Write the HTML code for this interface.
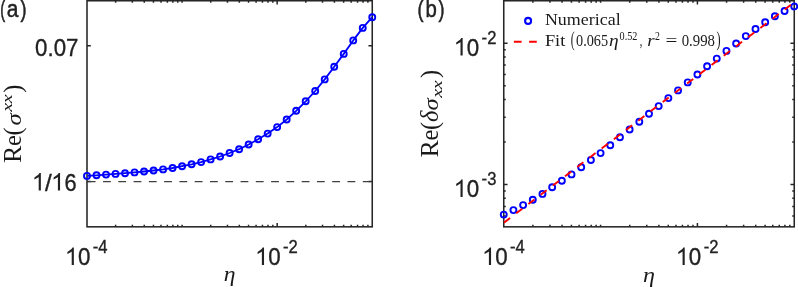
<!DOCTYPE html>
<html><head><meta charset="utf-8"><title>fig</title>
<style>html,body{margin:0;padding:0;background:#fff;}body{width:798px;height:287px;overflow:hidden;font-family:"Liberation Sans",sans-serif;}</style></head>
<body>
<svg width="798" height="287" viewBox="0 0 798 287" style="display:block;will-change:transform">
<rect width="798" height="287" fill="#fff"/>
<g fill="none" stroke="#262626" stroke-width="1.55">
<rect x="87.0" y="0.75" width="285.25" height="226.07"/>
<path stroke-width="1.5" d="M115.62 226.82 v-2.0 M115.62 0.75 v2.0 M132.37 226.82 v-2.0 M132.37 0.75 v2.0 M144.25 226.82 v-2.0 M144.25 0.75 v2.0 M153.46 226.82 v-2.0 M153.46 0.75 v2.0 M160.99 226.82 v-2.0 M160.99 0.75 v2.0 M167.35 226.82 v-2.0 M167.35 0.75 v2.0 M172.87 226.82 v-2.0 M172.87 0.75 v2.0 M177.73 226.82 v-2.0 M177.73 0.75 v2.0 M182.08 226.82 v-2.0 M182.08 0.75 v2.0 M210.71 226.82 v-2.0 M210.71 0.75 v2.0 M227.45 226.82 v-2.0 M227.45 0.75 v2.0 M239.33 226.82 v-2.0 M239.33 0.75 v2.0 M248.54 226.82 v-2.0 M248.54 0.75 v2.0 M256.07 226.82 v-2.0 M256.07 0.75 v2.0 M262.44 226.82 v-2.0 M262.44 0.75 v2.0 M267.95 226.82 v-2.0 M267.95 0.75 v2.0 M272.82 226.82 v-2.0 M272.82 0.75 v2.0 M277.17 226.82 v-3.8 M277.17 0.75 v3.8 M305.79 226.82 v-2.0 M305.79 0.75 v2.0 M322.53 226.82 v-2.0 M322.53 0.75 v2.0 M334.41 226.82 v-2.0 M334.41 0.75 v2.0 M343.63 226.82 v-2.0 M343.63 0.75 v2.0 M351.16 226.82 v-2.0 M351.16 0.75 v2.0 M357.52 226.82 v-2.0 M357.52 0.75 v2.0 M363.04 226.82 v-2.0 M363.04 0.75 v2.0 M367.90 226.82 v-2.0 M367.90 0.75 v2.0"/>
<path stroke-width="1.5" d="M87.0 45.8 h3.8 M372.25 45.8 h-3.8 M87.0 181.55 h3.8 M372.25 181.55 h-3.8"/>
</g>
<path d="M87.75 181.55 H372.25" stroke="#404040" stroke-width="1.3" stroke-dasharray="7.8 7.48" fill="none"/>
<polyline points="87.00,175.90 96.51,175.30 106.02,174.60 115.53,173.90 125.03,173.20 134.54,172.40 144.05,171.50 153.56,170.50 163.07,169.40 172.57,168.00 182.08,166.20 191.59,164.30 201.10,162.10 210.61,159.40 220.12,156.50 229.62,153.00 239.13,149.20 248.64,144.50 258.15,139.30 267.66,133.60 277.17,127.10 286.68,119.50 296.18,110.80 305.69,101.30 315.20,91.00 324.71,79.40 334.22,66.80 343.73,53.90 353.23,40.40 362.74,27.90 372.25,17.20" fill="none" stroke="#0000ff" stroke-width="1.8" stroke-linejoin="round"/>
<g fill="none" stroke="#0000ff" stroke-width="1.9">
<circle cx="87.00" cy="175.90" r="3.0"/>
<circle cx="96.51" cy="175.30" r="3.0"/>
<circle cx="106.02" cy="174.60" r="3.0"/>
<circle cx="115.53" cy="173.90" r="3.0"/>
<circle cx="125.03" cy="173.20" r="3.0"/>
<circle cx="134.54" cy="172.40" r="3.0"/>
<circle cx="144.05" cy="171.50" r="3.0"/>
<circle cx="153.56" cy="170.50" r="3.0"/>
<circle cx="163.07" cy="169.40" r="3.0"/>
<circle cx="172.57" cy="168.00" r="3.0"/>
<circle cx="182.08" cy="166.20" r="3.0"/>
<circle cx="191.59" cy="164.30" r="3.0"/>
<circle cx="201.10" cy="162.10" r="3.0"/>
<circle cx="210.61" cy="159.40" r="3.0"/>
<circle cx="220.12" cy="156.50" r="3.0"/>
<circle cx="229.62" cy="153.00" r="3.0"/>
<circle cx="239.13" cy="149.20" r="3.0"/>
<circle cx="248.64" cy="144.50" r="3.0"/>
<circle cx="258.15" cy="139.30" r="3.0"/>
<circle cx="267.66" cy="133.60" r="3.0"/>
<circle cx="277.17" cy="127.10" r="3.0"/>
<circle cx="286.68" cy="119.50" r="3.0"/>
<circle cx="296.18" cy="110.80" r="3.0"/>
<circle cx="305.69" cy="101.30" r="3.0"/>
<circle cx="315.20" cy="91.00" r="3.0"/>
<circle cx="324.71" cy="79.40" r="3.0"/>
<circle cx="334.22" cy="66.80" r="3.0"/>
<circle cx="343.73" cy="53.90" r="3.0"/>
<circle cx="353.23" cy="40.40" r="3.0"/>
<circle cx="362.74" cy="27.90" r="3.0"/>
<circle cx="372.25" cy="17.20" r="3.0"/>
</g>
<g fill="none" stroke="#262626" stroke-width="1.55">
<rect x="503.75" y="0.75" width="290.50" height="226.08"/>
<path stroke-width="1.5" d="M532.90 226.83 v-2.0 M532.90 0.75 v2.0 M549.95 226.83 v-2.0 M549.95 0.75 v2.0 M562.05 226.83 v-2.0 M562.05 0.75 v2.0 M571.43 226.83 v-2.0 M571.43 0.75 v2.0 M579.10 226.83 v-2.0 M579.10 0.75 v2.0 M585.58 226.83 v-2.0 M585.58 0.75 v2.0 M591.20 226.83 v-2.0 M591.20 0.75 v2.0 M596.15 226.83 v-2.0 M596.15 0.75 v2.0 M600.58 226.83 v-2.0 M600.58 0.75 v2.0 M629.73 226.83 v-2.0 M629.73 0.75 v2.0 M646.78 226.83 v-2.0 M646.78 0.75 v2.0 M658.88 226.83 v-2.0 M658.88 0.75 v2.0 M668.27 226.83 v-2.0 M668.27 0.75 v2.0 M675.93 226.83 v-2.0 M675.93 0.75 v2.0 M682.42 226.83 v-2.0 M682.42 0.75 v2.0 M688.03 226.83 v-2.0 M688.03 0.75 v2.0 M692.99 226.83 v-2.0 M692.99 0.75 v2.0 M697.42 226.83 v-3.8 M697.42 0.75 v3.8 M726.57 226.83 v-2.0 M726.57 0.75 v2.0 M743.62 226.83 v-2.0 M743.62 0.75 v2.0 M755.72 226.83 v-2.0 M755.72 0.75 v2.0 M765.10 226.83 v-2.0 M765.10 0.75 v2.0 M772.77 226.83 v-2.0 M772.77 0.75 v2.0 M779.25 226.83 v-2.0 M779.25 0.75 v2.0 M784.87 226.83 v-2.0 M784.87 0.75 v2.0 M789.82 226.83 v-2.0 M789.82 0.75 v2.0"/>
<path stroke-width="1.5" d="M503.75 215.97 h2.0 M794.25 215.97 h-2.0 M503.75 206.50 h2.0 M794.25 206.50 h-2.0 M503.75 198.30 h2.0 M794.25 198.30 h-2.0 M503.75 191.07 h2.0 M794.25 191.07 h-2.0 M503.75 184.60 h3.8 M794.25 184.60 h-3.8 M503.75 142.03 h2.0 M794.25 142.03 h-2.0 M503.75 117.14 h2.0 M794.25 117.14 h-2.0 M503.75 99.47 h2.0 M794.25 99.47 h-2.0 M503.75 85.77 h2.0 M794.25 85.77 h-2.0 M503.75 74.57 h2.0 M794.25 74.57 h-2.0 M503.75 65.10 h2.0 M794.25 65.10 h-2.0 M503.75 56.90 h2.0 M794.25 56.90 h-2.0 M503.75 49.67 h2.0 M794.25 49.67 h-2.0 M503.75 43.20 h3.8 M794.25 43.20 h-3.8"/>
</g>
<g fill="none" stroke="#0000ff" stroke-width="1.9">
<circle cx="503.75" cy="214.60" r="3.0"/>
<circle cx="513.43" cy="210.10" r="3.0"/>
<circle cx="523.12" cy="205.10" r="3.0"/>
<circle cx="532.80" cy="199.80" r="3.0"/>
<circle cx="542.48" cy="193.90" r="3.0"/>
<circle cx="552.17" cy="187.30" r="3.0"/>
<circle cx="561.85" cy="180.80" r="3.0"/>
<circle cx="571.53" cy="174.40" r="3.0"/>
<circle cx="581.22" cy="167.30" r="3.0"/>
<circle cx="590.90" cy="160.00" r="3.0"/>
<circle cx="600.58" cy="153.10" r="3.0"/>
<circle cx="610.27" cy="145.20" r="3.0"/>
<circle cx="619.95" cy="137.20" r="3.0"/>
<circle cx="629.63" cy="129.50" r="3.0"/>
<circle cx="639.32" cy="121.80" r="3.0"/>
<circle cx="649.00" cy="113.80" r="3.0"/>
<circle cx="658.68" cy="106.10" r="3.0"/>
<circle cx="668.37" cy="98.10" r="3.0"/>
<circle cx="678.05" cy="90.40" r="3.0"/>
<circle cx="687.73" cy="82.40" r="3.0"/>
<circle cx="697.42" cy="74.50" r="3.0"/>
<circle cx="707.10" cy="66.30" r="3.0"/>
<circle cx="716.78" cy="58.60" r="3.0"/>
<circle cx="726.47" cy="50.90" r="3.0"/>
<circle cx="736.15" cy="43.50" r="3.0"/>
<circle cx="745.83" cy="36.10" r="3.0"/>
<circle cx="755.52" cy="29.00" r="3.0"/>
<circle cx="765.20" cy="22.20" r="3.0"/>
<circle cx="774.88" cy="16.30" r="3.0"/>
<circle cx="784.57" cy="11.00" r="3.0"/>
<circle cx="794.25" cy="6.50" r="3.0"/>
</g>
<path d="M503.75 222.8 L794.25 2.2" stroke="#ff0000" stroke-width="1.9" stroke-dasharray="7.67 7.66" stroke-dashoffset="-0.3" fill="none"/>
<circle cx="528.1" cy="20.9" r="3.0" fill="none" stroke="#0000ff" stroke-width="2.1"/>
<path d="M513.9 41.8 H536.9" stroke="#ff0000" stroke-width="1.9" stroke-dasharray="7.7 7.5" fill="none"/>
<g fill="#222" stroke="#222" stroke-width="0.35">
<text transform="translate(0.20 17.4) scale(0.602 1)" font-family="Liberation Sans, sans-serif" font-size="24.5px" stroke="#222" stroke-width="0.6">(</text>
<text transform="translate(6.70 17.4) scale(0.857 1)" font-family="Liberation Sans, sans-serif" font-size="24.5px" stroke="#222" stroke-width="0.5">a</text>
<text transform="translate(20.40 17.4) scale(0.737 1)" font-family="Liberation Sans, sans-serif" font-size="24.5px" stroke="#222" stroke-width="0.6">)</text>
<text transform="translate(417.60 17.4) scale(0.737 1)" font-family="Liberation Sans, sans-serif" font-size="24.5px" stroke="#222" stroke-width="0.6">(</text>
<text transform="translate(425.50 17.4) scale(0.831 1)" font-family="Liberation Sans, sans-serif" font-size="24.5px" stroke="#222" stroke-width="0.5">b</text>
<text transform="translate(438.40 17.4) scale(0.737 1)" font-family="Liberation Sans, sans-serif" font-size="24.5px" stroke="#222" stroke-width="0.6">)</text>
<text transform="translate(35.10 55.5) scale(0.910 1)" font-family="Liberation Sans, sans-serif" font-size="24.5px">0.07</text>
<path transform="translate(31.73 190.6) scale(0.01196 -0.01196)" d="M763 0H583V1147Q518 1085 412.5 1023Q307 961 223 930V1104Q374 1175 487 1276Q600 1377 647 1472H763Z"/>
<text transform="translate(45.10 190.6) scale(0.991 1)" font-family="Liberation Sans, sans-serif" font-size="24.5px">/</text>
<path transform="translate(50.93 190.6) scale(0.01196 -0.01196)" d="M763 0H583V1147Q518 1085 412.5 1023Q307 961 223 930V1104Q374 1175 487 1276Q600 1377 647 1472H763Z"/>
<text transform="translate(64.40 190.6) scale(0.890 1)" font-family="Liberation Sans, sans-serif" font-size="24.5px">6</text>
<path transform="translate(64.73 265.1) scale(0.01196 -0.01196)" d="M763 0H583V1147Q518 1085 412.5 1023Q307 961 223 930V1104Q374 1175 487 1276Q600 1377 647 1472H763Z"/>
<text transform="translate(78.00 265.1) scale(0.912 1)" font-family="Liberation Sans, sans-serif" font-size="24.5px">0</text>
<text transform="translate(92.80 253.3) scale(0.914 1)" font-family="Liberation Sans, sans-serif" font-size="18.2px">-4</text>
<path transform="translate(254.90 265.1) scale(0.01196 -0.01196)" d="M763 0H583V1147Q518 1085 412.5 1023Q307 961 223 930V1104Q374 1175 487 1276Q600 1377 647 1472H763Z"/>
<text transform="translate(268.17 265.1) scale(0.912 1)" font-family="Liberation Sans, sans-serif" font-size="24.5px">0</text>
<text transform="translate(282.97 253.3) scale(0.914 1)" font-family="Liberation Sans, sans-serif" font-size="18.2px">-2</text>
<path transform="translate(481.93 265.1) scale(0.01196 -0.01196)" d="M763 0H583V1147Q518 1085 412.5 1023Q307 961 223 930V1104Q374 1175 487 1276Q600 1377 647 1472H763Z"/>
<text transform="translate(495.20 265.1) scale(0.912 1)" font-family="Liberation Sans, sans-serif" font-size="24.5px">0</text>
<text transform="translate(510.00 253.3) scale(0.914 1)" font-family="Liberation Sans, sans-serif" font-size="18.2px">-4</text>
<path transform="translate(675.60 265.1) scale(0.01196 -0.01196)" d="M763 0H583V1147Q518 1085 412.5 1023Q307 961 223 930V1104Q374 1175 487 1276Q600 1377 647 1472H763Z"/>
<text transform="translate(688.87 265.1) scale(0.912 1)" font-family="Liberation Sans, sans-serif" font-size="24.5px">0</text>
<text transform="translate(703.67 253.3) scale(0.914 1)" font-family="Liberation Sans, sans-serif" font-size="18.2px">-2</text>
<path transform="translate(453.53 55.6) scale(0.01196 -0.01196)" d="M763 0H583V1147Q518 1085 412.5 1023Q307 961 223 930V1104Q374 1175 487 1276Q600 1377 647 1472H763Z"/>
<text transform="translate(466.80 55.6) scale(0.912 1)" font-family="Liberation Sans, sans-serif" font-size="24.5px">0</text>
<text transform="translate(481.60 43.8) scale(0.914 1)" font-family="Liberation Sans, sans-serif" font-size="18.2px">-2</text>
<path transform="translate(453.53 197.0) scale(0.01196 -0.01196)" d="M763 0H583V1147Q518 1085 412.5 1023Q307 961 223 930V1104Q374 1175 487 1276Q600 1377 647 1472H763Z"/>
<text transform="translate(466.80 197.0) scale(0.912 1)" font-family="Liberation Sans, sans-serif" font-size="24.5px">0</text>
<text transform="translate(481.60 185.2) scale(0.914 1)" font-family="Liberation Sans, sans-serif" font-size="18.2px">-3</text>
</g>
<g fill="#1a1a1a" font-family="Liberation Serif, serif">
<text transform="translate(223.70 281.3) scale(1.136 1)" font-family="Liberation Serif, serif" font-size="20.8px" font-style="italic">η</text>
<text transform="translate(643.00 282.2) scale(1.145 1)" font-family="Liberation Serif, serif" font-size="21px" font-style="italic">η</text>
<text transform="translate(544.90 24.7) scale(1.026 1)" font-family="Liberation Serif, serif" font-size="17.5px">Numerical</text>
<text transform="translate(544.90 45.9) scale(1.048 1)" font-family="Liberation Serif, serif" font-size="17.5px">Fit</text>
<text transform="translate(570.80 45.6) scale(0.572 1)" font-family="Liberation Serif, serif" font-size="20.5px">(</text>
<text transform="translate(576.00 45.9) scale(0.844 1)" font-family="Liberation Serif, serif" font-size="16.9px">0.065</text>
<text transform="translate(609.00 45.9) scale(1.175 1)" font-family="Liberation Serif, serif" font-size="16.5px" font-style="italic">η</text>
<text transform="translate(619.60 40.0) scale(0.814 1)" font-family="Liberation Serif, serif" font-size="12.5px">0.52</text>
<text transform="translate(639.70 45.9) scale(0.594 1)" font-family="Liberation Serif, serif" font-size="17.5px">,</text>
<text transform="translate(647.30 45.9) scale(1.077 1)" font-family="Liberation Serif, serif" font-size="17.5px" font-style="italic">r</text>
<text transform="translate(655.00 39.6) scale(0.784 1)" font-family="Liberation Serif, serif" font-size="12.5px">2</text>
<text transform="translate(665.40 45.9) scale(1.204 1)" font-family="Liberation Serif, serif" font-size="17.5px">=</text>
<text transform="translate(681.70 45.9) scale(0.876 1)" font-family="Liberation Serif, serif" font-size="16.9px">0.998</text>
<text transform="translate(716.50 45.6) scale(0.602 1)" font-family="Liberation Serif, serif" font-size="20.5px">)</text>
<g transform="translate(21.2 162.9) rotate(-90)">
<text transform="translate(0 0) scale(1.06 1)" font-size="24.5px">R</text>
<text transform="translate(17 0) scale(1.0 1)" font-size="24.5px">e</text>
<text transform="translate(27.5 0) scale(1.0 1)" font-size="24.5px">(</text>
<text transform="translate(37.3 0) scale(1.12 1)" font-size="22px" font-style="italic">σ</text>
<text transform="translate(51.2 -9) scale(1.3 1)" font-size="15.5px" font-style="italic">x</text>
<text transform="translate(59.7 -9) scale(1.3 1)" font-size="15.5px" font-style="italic">x</text>
<text transform="translate(70.2 0) scale(1.0 1)" font-size="24.5px">)</text>
</g>
<g transform="translate(438.3 157.5) rotate(-90)">
<text transform="translate(0 0) scale(1.06 1)" font-size="24.5px">R</text>
<text transform="translate(17 0) scale(1.0 1)" font-size="24.5px">e</text>
<text transform="translate(27.5 0) scale(1.0 1)" font-size="24.5px">(</text>
<text transform="translate(35.5 0) scale(1.0 1)" font-size="24.5px" font-style="italic">δ</text>
<text transform="translate(46.9 0) scale(1.12 1)" font-size="22px" font-style="italic">σ</text>
<text transform="translate(59.7 4) scale(1.3 1)" font-size="15.5px" font-style="italic">x</text>
<text transform="translate(68.2 4) scale(1.3 1)" font-size="15.5px" font-style="italic">x</text>
<text transform="translate(79.5 0) scale(1.0 1)" font-size="24.5px">)</text>
</g>
</g>
</svg>
</body></html>
